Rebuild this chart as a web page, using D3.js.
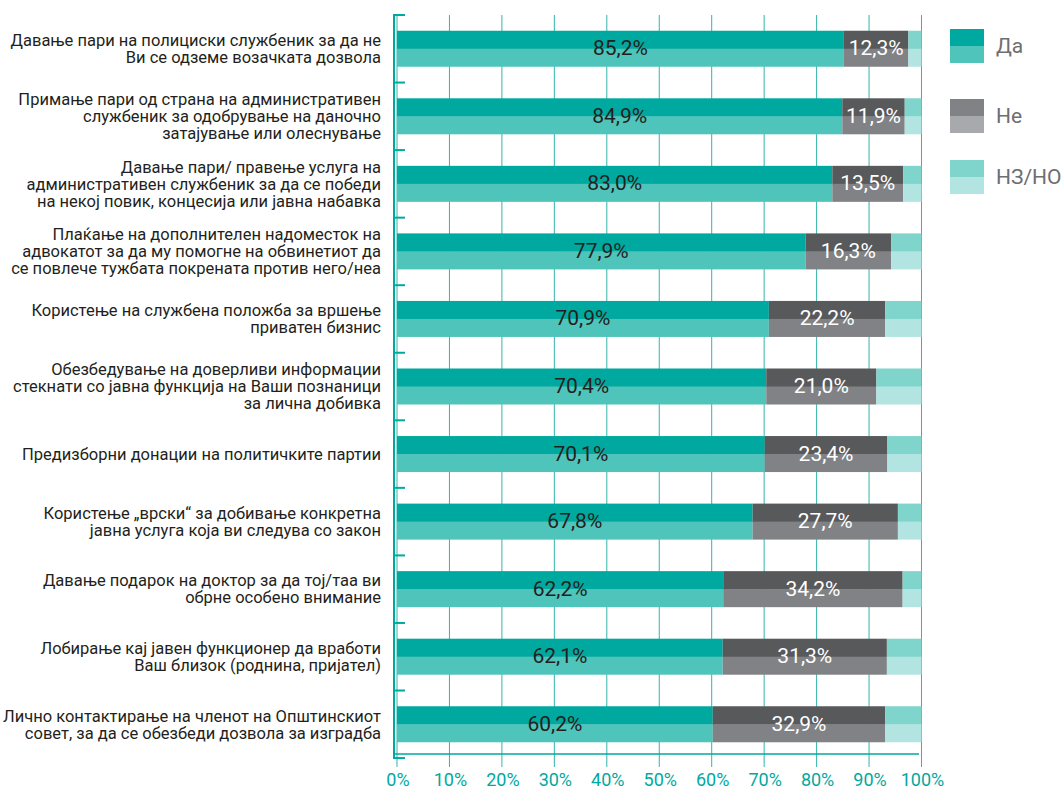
<!DOCTYPE html>
<html>
<head>
<meta charset="utf-8">
<script src="https://cdn.jsdelivr.net/npm/d3@7"></script>
<style>
  html, body { margin: 0; padding: 0; background: #fff; }
  svg { display: block; }
</style>
</head>
<body>
<svg id="chart" width="1062" height="789"></svg>
<script>
// ---- data ----
const categories = [
  ["Давање пари на полициски службеник за да не", "Ви се одземе возачката дозвола"],
  ["Примање пари од страна на административен", "службеник за одобрување на даночно", "затајување или олеснување"],
  ["Давање пари/ правење услуга на", "административен службеник за да се победи", "на некој повик, концесија или јавна набавка"],
  ["Плаќање на дополнителен надоместок на", "адвокатот за да му помогне на обвинетиот да", "се повлече тужбата покрената против него/неа"],
  ["Користење на службена положба за вршење", "приватен бизнис"],
  ["Обезбедување на доверливи информации", "стекнати со јавна функција на Ваши познаници", "за лична добивка"],
  ["Предизборни донации на политичките партии"],
  ["Користење „врски“ за добивање конкретна", "јавна услуга која ви следува со закон"],
  ["Давање подарок на доктор за да тој/таа ви", "обрне особено внимание"],
  ["Лобирање кај јавен функционер да вработи", "Ваш близок (роднина, пријател)"],
  ["Лично контактирање на членот на Општинскиот", "совет, за да се обезбеди дозвола за изградба"]
];
const yesValues  = [85.2, 84.9, 83.0, 77.9, 70.9, 70.4, 70.1, 67.8, 62.2, 62.1, 60.2];
const noValues   = [12.3, 11.9, 13.5, 16.3, 22.2, 21.0, 23.4, 27.7, 34.2, 31.3, 32.9];
const dkValues   = [2.5, 3.2, 3.5, 5.8, 6.9, 8.6, 6.5, 4.5, 3.6, 6.6, 6.9];
const seriesNames = ["Да", "Не", "НЗ/НО"];
const xTicks = [0, 10, 20, 30, 40, 50, 60, 70, 80, 90, 100];

// ---- styles ----
const barColors = [
  {top: "#00a99f", bottom: "#4fc4bb"},
  {top: "#58595b", bottom: "#808285"},
  {top: "#7fd4cc", bottom: "#b2e5e1"}
];
const legendColors = [
  {top: "#00a99f", bottom: "#4fc4bb"},
  {top: "#808285", bottom: "#a7a9ac"},
  {top: "#7fd4cc", bottom: "#b2e5e1"}
];
const teal = "#00a99f";
const font = "Roboto, 'Noto Sans', sans-serif";

const svg = d3.select("#chart");
const ids = categories.map((c, i) => i);

const x = d3.scaleLinear().domain([0, 100]).range([397, 921.5]);
const y = d3.scaleBand().domain(ids).range([15, 758]).paddingInner(0.467).paddingOuter(0.233);
const step = y.step();
const bw = y.bandwidth();

// gridlines
svg.append("g").selectAll("line").data(xTicks).join("line")
  .attr("x1", d => x(d)).attr("x2", d => x(d))
  .attr("y1", 15).attr("y2", 767)
  .attr("stroke", "#33b5ac").attr("stroke-width", 1);

// stacked data
const rows = ids.map(i => {
  const vals = [yesValues[i], noValues[i], dkValues[i]];
  let acc = 0;
  return vals.map((v, k) => { const s = acc; acc += v; return {i, k, v, x0: s, x1: acc}; });
});

const gBars = svg.append("g");
rows.forEach(segs => {
  segs.forEach(s => {
    const y0 = y(s.i);
    gBars.append("rect")
      .attr("x", x(s.x0)).attr("width", x(s.x1) - x(s.x0))
      .attr("y", y0).attr("height", bw / 2 + 0.5)
      .attr("fill", barColors[s.k].top);
    gBars.append("rect")
      .attr("x", x(s.x0)).attr("width", x(s.x1) - x(s.x0))
      .attr("y", y0 + bw / 2).attr("height", bw / 2)
      .attr("fill", barColors[s.k].bottom);
  });
  // value labels for Да and Не
  segs.slice(0, 2).forEach(s => {
    gBars.append("text")
      .attr("x", (x(s.x0) + x(s.x1)) / 2)
      .attr("y", y(s.i) + bw / 2 + 1)
      .attr("text-anchor", "middle")
      .attr("dominant-baseline", "middle")
      .attr("font-family", font)
      .attr("font-size", 21)
      .attr("fill", s.k === 0 ? "#231f20" : "#ffffff")
      .text(s.v.toFixed(1).replace(".", ",") + "%");
  });
});

// left axis line and boundary ticks
svg.append("line")
  .attr("x1", 394).attr("x2", 394).attr("y1", 15).attr("y2", 759)
  .attr("stroke", teal).attr("stroke-width", 2);
const bounds = d3.range(categories.length + 1).map(k => y.range()[0] + k * step);
svg.append("g").selectAll("line").data(bounds).join("line")
  .attr("x1", 393).attr("x2", 405)
  .attr("y1", d => d).attr("y2", d => d)
  .attr("stroke", teal).attr("stroke-width", 2);

// bottom horizontal line
svg.append("line")
  .attr("x1", 394).attr("x2", 919).attr("y1", 754).attr("y2", 754)
  .attr("stroke", teal).attr("stroke-width", 1.5);

// x tick labels
svg.append("g").selectAll("text").data(xTicks).join("text")
  .attr("x", d => x(d) + 1).attr("y", 786)
  .attr("text-anchor", "middle")
  .attr("font-family", font).attr("font-size", 18)
  .attr("fill", teal)
  .text(d => d + "%");

// category labels
const lineH = 17;
categories.forEach((lines, i) => {
  const cy = y(i) + bw / 2;
  const t = svg.append("text")
    .attr("text-anchor", "end")
    .attr("font-family", font).attr("font-size", 16.5)
    .attr("fill", "#231f20");
  lines.forEach((ln, j) => {
    t.append("tspan")
      .attr("x", 381)
      .attr("y", cy + (j - (lines.length - 1) / 2) * lineH)
      .attr("dy", "0.35em")
      .text(ln);
  });
});

// legend
const legY = [29, 99, 160];
seriesNames.forEach((name, k) => {
  const g = svg.append("g");
  g.append("rect").attr("x", 950).attr("y", legY[k]).attr("width", 34).attr("height", 18)
    .attr("fill", legendColors[k].top);
  g.append("rect").attr("x", 950).attr("y", legY[k] + 17).attr("width", 34).attr("height", 17)
    .attr("fill", legendColors[k].bottom);
  g.append("text").attr("x", 996).attr("y", legY[k] + 18)
    .attr("dominant-baseline", "middle")
    .attr("font-family", font).attr("font-size", 21)
    .attr("fill", "#6d6e71")
    .text(name);
});
</script>
</body>
</html>
